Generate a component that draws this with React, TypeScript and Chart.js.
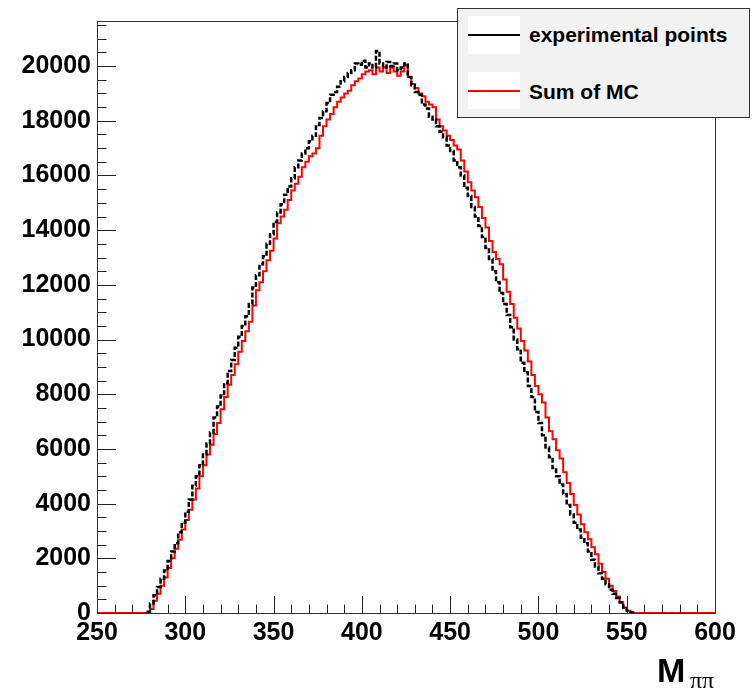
import React, { useEffect, useRef } from "react";
import { Chart, registerables } from "chart.js";

Chart.register(...registerables);

// Histogram binning (MeV)
const X_MIN = 250;
const X_MAX = 600;
const BIN_START = 278;
const BIN_WIDTH = 2;

// Tick settings
const xTickValues = [250, 300, 350, 400, 450, 500, 550, 600];
const yTickValues = [0, 2000, 4000, 6000, 8000, 10000, 12000, 14000, 16000, 18000, 20000];
const Y_MAX = 21650;

const legendLabels = ["experimental points", "Sum of MC"];

// Sum of MC (red), bins of 2 MeV starting at 278
const mcValues = [
  0, 150, 450, 700, 1000, 1300, 1650, 2000, 2350, 2680,
  3050, 3400, 3780, 4150, 4550, 5000, 5400, 5800, 6150, 6550,
  6950, 7450, 7900, 8350, 8700, 9100, 9550, 9950, 10300, 10650,
  11250, 11800, 12100, 12500, 12900, 13250, 13700, 14250, 14500, 14750,
  15100, 15450, 15700, 15950, 16300, 16500, 16700, 16800, 17000, 17450,
  17800, 18050, 18250, 18500, 18700, 18850, 19000, 19100, 19300, 19450,
  19550, 19700, 19800, 19850, 19700, 19950, 19800, 19950, 19750, 19950,
  19800, 19650, 19800, 20050, 19600, 19350, 19200, 19000, 18900, 18700,
  18600, 18500, 18050, 17800, 17650, 17450, 17300, 17100, 16950, 16550,
  16150, 15750, 15450, 15200, 14850, 14450, 14100, 13600, 13200, 12950,
  12750, 12200, 11750, 11300, 10800, 10400, 9950, 9600, 9200, 8700,
  8300, 8000, 7700, 7150, 6650, 6350, 5950, 5650, 5150, 4750,
  4350, 3950, 3600, 3250, 2950, 2700, 2400, 2150, 1800, 1500,
  1250, 1000, 800, 600, 400, 200, 80, 20,
];

// experimental points (black), same binning
const expValues = [
  50, 350, 650, 950, 1250, 1550, 1900, 2250, 2550, 2950,
  3300, 3700, 4150, 4650, 5000, 5400, 5800, 6200, 6600, 7150,
  7550, 7950, 8400, 8850, 9250, 9700, 10100, 10500, 10850, 11300,
  11900, 12350, 12750, 13050, 13500, 13850, 14300, 14650, 14950, 15300,
  15600, 15900, 16300, 16550, 16800, 17000, 17250, 17450, 17850, 18100,
  18350, 18650, 18950, 19050, 19250, 19450, 19600, 19750, 19850, 20100,
  20050, 20200, 19950, 20100, 19950, 20550, 20100, 19950, 20150, 20000,
  20100, 19850, 19950, 20100, 19600, 19300, 19050, 18950, 18600, 18450,
  18150, 18050, 17800, 17600, 17400, 17100, 16900, 16550, 16300, 16000,
  15550, 15250, 14850, 14500, 14150, 13750, 13350, 12950, 12500, 12100,
  11700, 11300, 10900, 10450, 10000, 9650, 9150, 8800, 8300, 7900,
  7350, 6950, 6500, 6050, 5700, 5300, 5000, 4700, 4350, 3950,
  3600, 3300, 3050, 2750, 2550, 2250, 1950, 1700, 1450, 1250,
  1050, 850, 700, 550, 380, 200, 90, 20,
];

// Histogram outline including empty bins on both sides
function toSteps(values: number[]) {
  const pts: { x: number; y: number }[] = [{ x: X_MIN, y: 0 }];
  values.forEach((v, i) => pts.push({ x: BIN_START + i * BIN_WIDTH, y: v }));
  const end = BIN_START + values.length * BIN_WIDTH;
  pts.push({ x: end, y: 0 });
  pts.push({ x: X_MAX, y: 0 });
  return pts;
}

// Points only over filled bins (empty bins are not drawn)
function toFilledSteps(values: number[]) {
  const pts: { x: number; y: number }[] = [];
  values.forEach((v, i) => pts.push({ x: BIN_START + i * BIN_WIDTH, y: v }));
  pts.push({ x: BIN_START + values.length * BIN_WIDTH, y: values[values.length - 1] });
  return pts;
}

const FONT = "'Liberation Sans', Arial, Helvetica, sans-serif";

const frameTicksPlugin = {
  id: "frameTicks",
  afterDatasetsDraw(chart: any) {
    const { ctx, chartArea, scales } = chart;
    const { left, right, top, bottom } = chartArea;
    const xs = scales.x;
    const ys = scales.y;
    ctx.save();
    ctx.strokeStyle = "#222";
    ctx.lineWidth = 1;
    ctx.beginPath();
    for (let v = 0; v <= Y_MAX; v += 500) {
      const py = Math.round(ys.getPixelForValue(v)) + 0.5;
      const len = v % 2000 === 0 ? 19 : 9.5;
      ctx.moveTo(left, py);
      ctx.lineTo(left + len, py);
    }
    for (let v = X_MIN; v <= X_MAX; v += 10) {
      const px = Math.round(xs.getPixelForValue(v)) + 0.5;
      const len = v % 50 === 0 ? 17 : 8.5;
      ctx.moveTo(px, bottom);
      ctx.lineTo(px, bottom - len);
    }
    ctx.stroke();
    ctx.strokeStyle = "#333";
    ctx.strokeRect(Math.round(left) + 0.5, Math.round(top) + 0.5, Math.round(right - left), Math.round(bottom - top));
    ctx.restore();
  },
};

export default function App() {
  const canvasRef = useRef<HTMLCanvasElement | null>(null);

  useEffect(() => {
    if (!canvasRef.current) return;
    const chart = new Chart(canvasRef.current, {
      type: "line",
      data: {
        datasets: [
          {
            label: legendLabels[0],
            data: toFilledSteps(expValues),
            borderColor: "#000000",
            borderWidth: 2.5,
            borderDash: [5, 2],
            stepped: "before",
            pointRadius: 0,
            fill: false,
          },
          {
            label: legendLabels[1],
            data: toSteps(mcValues),
            borderColor: "#ff0000",
            borderWidth: 2,
            stepped: "before",
            pointRadius: 0,
            fill: false,
          },
        ],
      },
      options: {
        animation: false,
        responsive: false,
        maintainAspectRatio: false,
        layout: { padding: { top: 21, right: 39, left: 0, bottom: 0 } },
        plugins: { legend: { display: false }, tooltip: { enabled: false } },
        scales: {
          x: {
            type: "linear",
            min: X_MIN,
            max: X_MAX,
            afterBuildTicks: (s: any) => {
              s.ticks = xTickValues.map((v) => ({ value: v }));
            },
            afterFit: (s: any) => {
              s.height = 80;
            },
            grid: { display: false, drawTicks: false },
            border: { display: false },
            ticks: {
              padding: 5,
              color: "#000",
              font: { family: FONT, size: 25, weight: "bold" },
              maxRotation: 0,
              autoSkip: false,
              callback: (v: any) => String(v),
            },
          },
          y: {
            type: "linear",
            min: 0,
            max: Y_MAX,
            afterBuildTicks: (s: any) => {
              s.ticks = yTickValues.map((v) => ({ value: v }));
            },
            afterFit: (s: any) => {
              s.width = 97;
            },
            grid: { display: false, drawTicks: false },
            border: { display: false },
            ticks: {
              padding: 6,
              color: "#000",
              font: { family: FONT, size: 25, weight: "bold" },
              autoSkip: false,
              callback: (v: any) => String(v),
            },
          },
        },
      } as any,
      plugins: [frameTicksPlugin],
    });
    return () => chart.destroy();
  }, []);

  return (
    <div style={{ position: "absolute", left: 0, top: 0, width: 754, height: 693, background: "#fff" }}>
      <canvas ref={canvasRef} width={754} height={693} style={{ display: "block" }} />
      <div
        style={{
          position: "absolute",
          left: 457,
          top: 8,
          width: 291,
          height: 108,
          background: "#f2f2f2",
          border: "1px solid #333",
          fontFamily: FONT,
          fontWeight: "bold",
          fontSize: 21,
          lineHeight: "21px",
          color: "#000",
        }}
      >
        <div style={{ position: "absolute", left: 10, top: 7, width: 52, height: 38, background: "#fff" }}>
          <div style={{ position: "absolute", left: 0, top: 18, width: 52, height: 2, background: "#000" }} />
        </div>
        <div style={{ position: "absolute", left: 10, top: 63, width: 52, height: 37, background: "#fff" }}>
          <div style={{ position: "absolute", left: 0, top: 18, width: 52, height: 2, background: "#ff0000" }} />
        </div>
        <span style={{ position: "absolute", left: 71, top: 15, whiteSpace: "nowrap" }}>{legendLabels[0]}</span>
        <span style={{ position: "absolute", left: 71, top: 72, whiteSpace: "nowrap" }}>{legendLabels[1]}</span>
      </div>
      <span
        style={{
          position: "absolute",
          left: 657,
          top: 653,
          fontFamily: FONT,
          fontWeight: "bold",
          fontSize: 34,
          lineHeight: "34px",
          color: "#000",
          whiteSpace: "nowrap",
        }}
      >
        M
      </span>
      <span
        style={{
          position: "absolute",
          left: 690,
          top: 668,
          fontFamily: "'Liberation Serif', 'DejaVu Serif', serif",
          fontSize: 24,
          lineHeight: "24px",
          color: "#000",
          whiteSpace: "nowrap",
        }}
      >
        ππ
      </span>
    </div>
  );
}
